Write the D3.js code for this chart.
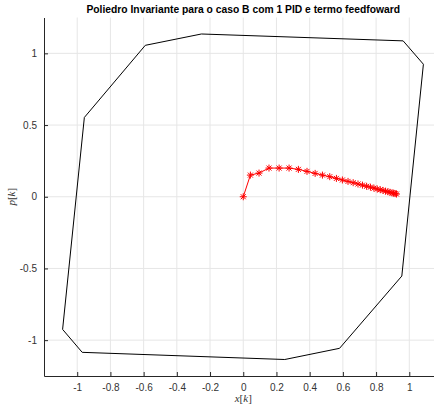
<!DOCTYPE html>
<html lang="pt">
<head>
<meta charset="UTF-8">
<title>Poliedro Invariante</title>
<script src="https://d3js.org/d3.v7.min.js"></script>
<style>
  body { margin: 0; background: #fff; }
  svg { display: block; font-family: "Liberation Sans", Arial, sans-serif; }
</style>
</head>
<body>
<script>
// polytope vertices (x, p)
const polyX = [-0.59, -0.252, 0.963, 1.085, 0.955, 0.58, 0.25, -0.97, -1.088, -0.957, -0.59];
const polyP = [1.056, 1.135, 1.087, 0.924, -0.553, -1.057, -1.135, -1.085, -0.925, 0.553, 1.056];

// trajectory x[k], p[k]
const trajX = [0, 0.043, 0.095, 0.155, 0.216, 0.276, 0.332, 0.384, 0.433, 0.477, 0.521, 0.561, 0.597, 0.631,
  0.662, 0.691, 0.718, 0.743, 0.766, 0.787, 0.807, 0.825, 0.842, 0.857, 0.871, 0.884, 0.896, 0.906, 0.915, 0.923];
const trajP = [0, 0.151, 0.165, 0.2, 0.2, 0.2, 0.191, 0.177, 0.163, 0.151, 0.14, 0.128, 0.117, 0.107,
  0.098, 0.089, 0.081, 0.073, 0.067, 0.06, 0.054, 0.049, 0.044, 0.039, 0.035, 0.031, 0.027, 0.025, 0.022, 0.019];

const xTicks = [-1, -0.8, -0.6, -0.4, -0.2, 0, 0.2, 0.4, 0.6, 0.8, 1];
const yTicks = [-1, -0.5, 0, 0.5, 1];

const W = 434, H = 408;
const svg = d3.select("body").append("svg").attr("width", W).attr("height", H);

const x = d3.scaleLinear().domain([-1.2, 1.2]).range([44, 442.5]);
const y = d3.scaleLinear().domain([-1.25, 1.25]).range([376, 17.5]);

// grid
svg.append("g").selectAll("line").data(xTicks).join("line")
  .attr("x1", d => x(d)).attr("x2", d => x(d))
  .attr("y1", y(-1.25)).attr("y2", y(1.25))
  .attr("stroke", "#e6e6e6").attr("stroke-width", 1);
svg.append("g").selectAll("line").data(yTicks).join("line")
  .attr("x1", x(-1.2)).attr("x2", x(1.2))
  .attr("y1", d => y(d)).attr("y2", d => y(d))
  .attr("stroke", "#e6e6e6").attr("stroke-width", 1);

// axes
const fmt = d => String(d);
const xAxis = d3.axisBottom(x).tickValues(xTicks).tickSizeInner(-4).tickSizeOuter(0).tickPadding(8).tickFormat(fmt);
const gx = svg.append("g").attr("transform", `translate(0,${y(-1.25)})`).call(xAxis);
const yAxis = d3.axisLeft(y).tickValues(yTicks).tickSizeInner(-4).tickSizeOuter(0).tickPadding(7).tickFormat(fmt);
const gy = svg.append("g").attr("transform", `translate(${x(-1.2)},0)`).call(yAxis);
[gx, gy].forEach(g => {
  g.select(".domain").attr("stroke", "#262626");
  g.selectAll(".tick line").attr("stroke", "#262626");
  g.selectAll(".tick text").attr("fill", "#333").style("font-size", "10px")
   .style("font-family", "'Liberation Sans', Arial, sans-serif");
});

// polytope
const line = d3.line().x(d => x(d[0])).y(d => y(d[1]));
svg.append("path")
  .datum(polyX.map((v, i) => [v, polyP[i]]))
  .attr("d", line).attr("fill", "none").attr("stroke", "#000").attr("stroke-width", 1);

// trajectory
const traj = trajX.map((v, i) => [v, trajP[i]]);
svg.append("path").datum(traj).attr("d", line)
  .attr("fill", "none").attr("stroke", "#ff0000").attr("stroke-width", 1);
const star = "M-3.5,0H3.5M0,-3.5V3.5M-2.5,-2.5L2.5,2.5M-2.5,2.5L2.5,-2.5";
svg.append("g").selectAll("path").data(traj).join("path")
  .attr("transform", d => `translate(${x(d[0])},${y(d[1])})`)
  .attr("d", star).attr("stroke", "#ff0000").attr("stroke-width", 1).attr("fill", "none");

// title
svg.append("text").attr("x", x(0)).attr("y", 13).attr("text-anchor", "middle")
  .style("font-size", "10.3px").style("font-weight", "bold").attr("fill", "#000")
  .text("Poliedro Invariante para o caso B com 1 PID e termo feedfoward");

// axis labels (latex style)
const xl = svg.append("text").attr("x", x(0)).attr("y", 402).attr("text-anchor", "middle")
  .style("font-family", "'Liberation Serif', serif").style("font-size", "11px").attr("fill", "#333");
xl.append("tspan").style("font-style", "italic").text("x");
xl.append("tspan").text("[");
xl.append("tspan").style("font-style", "italic").text("k");
xl.append("tspan").text("]");

const yl = svg.append("text").attr("transform", `translate(15,${y(0)}) rotate(-90)`).attr("text-anchor", "middle")
  .style("font-family", "'Liberation Serif', serif").style("font-size", "11px").attr("fill", "#333");
yl.append("tspan").style("font-style", "italic").text("p");
yl.append("tspan").text("[");
yl.append("tspan").style("font-style", "italic").text("k");
yl.append("tspan").text("]");
</script>
</body>
</html>
